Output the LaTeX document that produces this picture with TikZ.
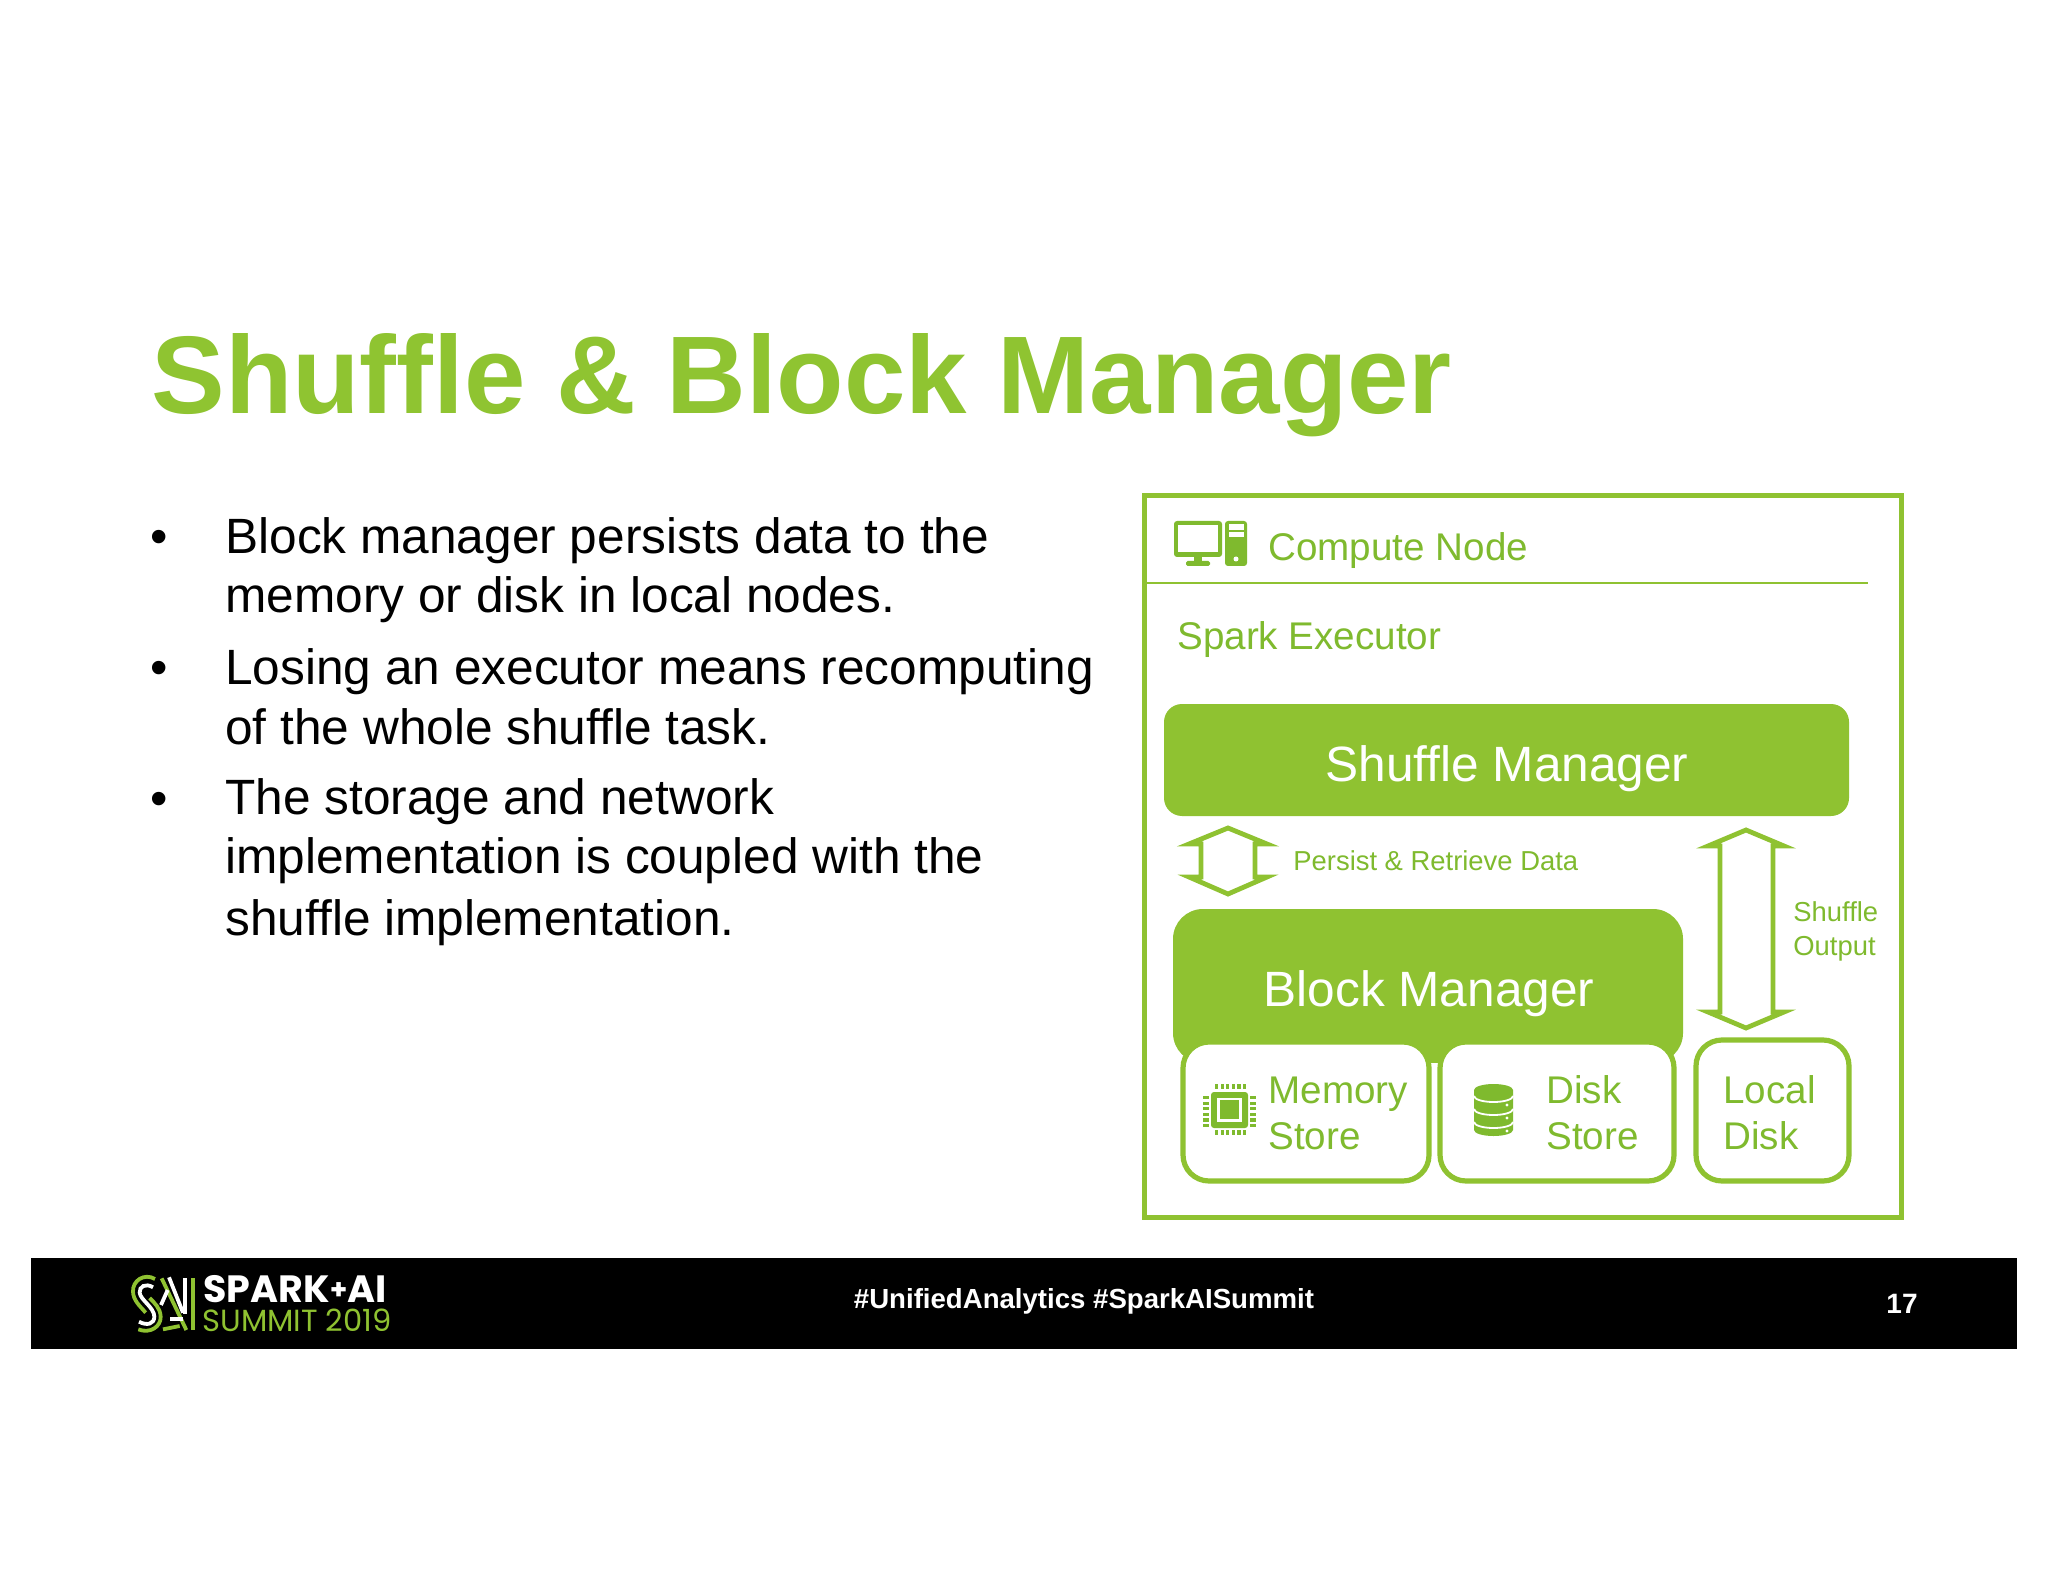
\documentclass[tikz,border=0pt]{standalone}
\usepackage{fontspec}
\setmainfont{Liberation Sans}
\newfontfamily\popfont{Poppins}
\definecolor{gfill}{HTML}{8FC231}
\definecolor{gtext}{HTML}{7FBA2E}
\definecolor{gtitle}{HTML}{8FC431}
\newcommand{\fs}[1]{\fontsize{#1}{#1}\selectfont}
\tikzset{
 x=0.5pt,y=-0.5pt,
 lbl/.style={anchor=base west,inner sep=0,text=gtext},
 bodytext/.style={anchor=base west,inner sep=0,text=black,font=\fs{24.8}},
 mgr/.style={draw=none,fill=gfill,rounded corners=9pt},
 storebox/.style={draw=gfill,line width=2.6pt,fill=white,rounded corners=13pt},
 hollowarrow/.style={draw=gfill,line width=2.4pt,fill=white,miter limit=20},
 ic/.style={fill=gtext,draw=none},
 wh/.style={fill=white,draw=none},
 logog/.style={draw=gfill,line width=1.9pt},
 logow/.style={draw=white,line width=1.9pt},
}
\begin{document}
\begin{tikzpicture}
\useasboundingbox (0,0) rectangle (2048,1582);
\fill[white] (0,0) rectangle (2048,1582);
% title
\node[anchor=base west,inner sep=0,text=gtitle,font=\fs{55.2}\bfseries] (title) at (151,414) {Shuffle \& Block Manager};
% bullets
\foreach \n/\yy in {b1/553,b2/684,b3/815}{\node[bodytext] (\n) at (150,\yy) {•};}
\node[bodytext] (t1) at (225,553) {Block manager persists data to the};
\node[bodytext] (t2) at (225,612) {memory or disk in local nodes.};
\node[bodytext] (t3) at (225,684) {Losing an executor means recomputing};
\node[bodytext] (t4) at (225,744) {of the whole shuffle task.};
\node[bodytext] (t5) at (225,814) {The storage and network};
\node[bodytext] (t6) at (225,873) {implementation is coupled with the};
\node[bodytext] (t7) at (225,935) {shuffle implementation.};
% outer box
\draw[gfill,line width=2.5pt] (1144,496) rectangle (1901,1217);
\draw[gfill,line width=1.3pt] (1146,583) -- (1868,583);
\node[lbl,font=\fs{19.3}] (cn) at (1268,560) {Compute Node};
\node[lbl,font=\fs{19.3}] (se) at (1177,649) {Spark Executor};
% monitor icon
\fill[ic,rounded corners=1.5pt] (1174,521) rectangle (1222,557);
\fill[wh] (1178,525) rectangle (1218,552);
\fill[ic] (1194,557) rectangle (1202,562);
\fill[ic,rounded corners=0.8pt] (1186,561) rectangle (1210,566);
\fill[ic,rounded corners=1.5pt] (1225,521) rectangle (1247,566);
\fill[wh] (1229,524) rectangle (1244,530);
\fill[wh] (1229,532) rectangle (1244,537);
\fill[wh] (1236,559) circle (2.5);
% managers
\node[mgr,minimum width=342.5pt,minimum height=56pt,inner sep=0] (sm) at (1506.5,760) {};
\node[text=white,font=\fs{24.8},inner sep=0] (smt) at (1507,769) {Shuffle Manager};
\fill[mgr,rounded corners=15pt] (1173,909) rectangle (1683,1063);
\node[text=white,font=\fs{24.8},inner sep=0] (bm) at (1429,994) {Block Manager};
% store boxes
\fill[white] (1431,1063) rectangle (1438,1182);
\draw[storebox] (1183,1042) rectangle (1429,1181);
\draw[storebox] (1440,1042) rectangle (1674,1181);
\draw[storebox] (1696,1040) rectangle (1849,1181);
\node[lbl,font=\fs{19.3}] (m1) at (1268,1103) {Memory};
\node[lbl,font=\fs{19.3}] (m2) at (1268,1149) {Store};
\node[lbl,font=\fs{19.3}] (d1) at (1546,1103) {Disk};
\node[lbl,font=\fs{19.3}] (d2) at (1546,1149) {Store};
\node[lbl,font=\fs{19.3}] (l1) at (1723,1103) {Local};
\node[lbl,font=\fs{19.3}] (l2) at (1723,1149) {Disk};
% chip
\fill[ic,rounded corners=1.5pt] (1211,1092) rectangle (1248,1128);
\fill[wh] (1217,1098) rectangle (1242,1122);
\fill[ic] (1220,1100) rectangle (1239,1119);
\foreach \i in {0,...,5}{
 \fill[ic] ({1215+\i*5.6},1084) rectangle +(3.2,5);
 \fill[ic] ({1215+\i*5.6},1130) rectangle +(3.2,5);
 \fill[ic] (1203,{1096+\i*5.6}) rectangle +(6,3.2);
 \fill[ic] (1250,{1096+\i*5.6}) rectangle +(6,3.2);
}
% database
\fill[ic] (1474,1090) -- (1474,1130) arc[start angle=180,end angle=360,x radius=19.5,y radius=-6] -- (1513,1090) arc[start angle=0,end angle=180,x radius=19.5,y radius=-6] -- cycle;
\foreach \yy in {1096,1109,1122}{
 \draw[white,line width=0.9pt] (1474,\yy) arc[start angle=180,end angle=360,x radius=19.5,y radius=-6];
}
\foreach \yy in {1105,1118,1131}{\fill[wh] (1507,\yy) circle (1.6);}
% arrows
\draw[hollowarrow] (1228,828) -- (1267,844) -- (1255,844) -- (1255,877) -- (1267,877) -- (1228,894) -- (1189,877) -- (1201,877) -- (1201,844) -- (1189,844) -- cycle;
\draw[hollowarrow] (1746,830) -- (1784,846) -- (1773,846) -- (1773,1012) -- (1784,1012) -- (1746,1028) -- (1708,1012) -- (1720,1012) -- (1720,846) -- (1708,846) -- cycle;
\node[lbl,font=\fs{13.7}] (pr) at (1293,870) {Persist \& Retrieve Data};
\node[lbl,font=\fs{13.7}] (so1) at (1793,921) {Shuffle};
\node[lbl,font=\fs{13.7}] (so2) at (1793,955) {Output};
% footer
\fill[black] (31,1258) rectangle (2017,1349);
\node[anchor=base,inner sep=0,text=white,font=\fs{13.8}\bfseries] (tag) at (1084,1308) {\#UnifiedAnalytics \#SparkAISummit};
\node[anchor=base,inner sep=0,text=white,font=\fs{14}\bfseries] (pg) at (1902,1313) {17};
\node[anchor=base west,inner sep=0,text=white,font=\popfont\bfseries\fs{19}] (sp) at (203,1302) {SPARK{\fs{14}\raisebox{1.5pt}{+}}AI};
\node[anchor=base west,inner sep=0,text=gfill,font=\popfont\fs{15.3}] (su) at (202,1331) {SUMMIT 2019};
% logo mark
\begin{scope}[shift={(125,1270)},x=0.1667pt,y=-0.1667pt]
 \draw[logog] (90,27) .. controls (58,8) and (22,32) .. (24,65) .. controls (25,92) and (45,108) .. (62,128);
 \draw[logog] (40,178) .. controls (75,192) and (108,170) .. (107,140) .. controls (106,115) and (90,100) .. (74,84);
 \draw[logow] (84,52) .. controls (62,38) and (42,50) .. (44,68) .. controls (46,90) and (88,112) .. (88,140) .. controls (88,162) and (66,168) .. (42,155);
 \draw[logog] (110,25) -- (184,180);
 \draw[logow] (132,22) -- (174,128);
 \draw[logow] (128,60) -- (108,105);
 \draw[logow] (136,148) -- (174,148);
 \draw[logog] (114,178) -- (164,168);
 \draw[logow] (180,25) -- (180,132);
 \draw[logog] (205,25) -- (205,180);
\end{scope}
\end{tikzpicture}
\end{document}
